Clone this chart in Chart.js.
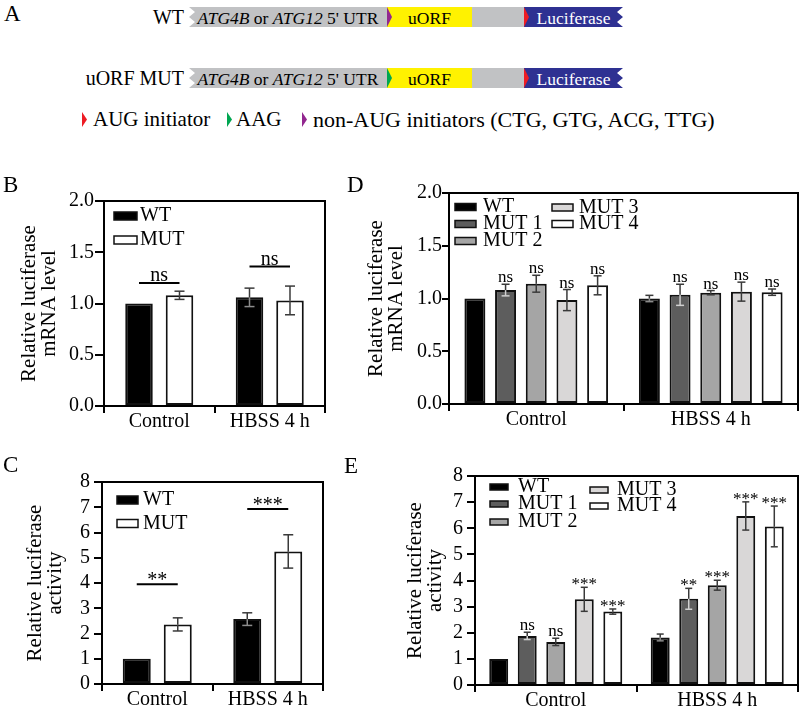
<!DOCTYPE html>
<html>
<head>
<meta charset="utf-8">
<script src="https://cdn.jsdelivr.net/npm/chart.js@4.4.1/dist/chart.umd.min.js"></script>
<style>
  body { margin: 0; background: #fff; }
  #fig { position: relative; width: 800px; height: 708px; overflow: hidden; font-family: 'Liberation Serif', 'Times New Roman', serif; color: #000; }
  #fig canvas { position: absolute; }
  .t { position: absolute; line-height: 1; white-space: nowrap; }
  .seg { position: absolute; height: 20px; line-height: 22px; text-align: center; font-size: 17.5px; white-space: nowrap; overflow: hidden; }
  .tri { position: absolute; width: 5px; clip-path: polygon(0 0, 100% 50%, 0 100%); }
  .utr { background: #c1c2c4; clip-path: polygon(0 0, 100% 0, 100% 100%, 0 100%, 6px 75%, 0 50%, 6px 25%); }
  .orf { background: #fff200; }
  .luc { background: #2e3192; color: #fff; clip-path: polygon(0 0, 100% 0, calc(100% - 6px) 25%, 100% 50%, calc(100% - 6px) 75%, 100% 100%, 0 100%); }
</style>
</head>
<body>
<div id="fig">
  <!-- panel A: reporter constructs -->
  <div class="t" style="left:4px;top:2px;font-size:23px">A</div>

  <div class="t" style="right:616px;top:7px;font-size:20px">WT</div>
  <div class="seg utr" style="left:189px;top:7px;width:340px"></div>
  <div class="seg" style="left:189px;top:7px;width:198px"><i>ATG4B</i> or <i>ATG12</i> 5' UTR</div>
  <div class="seg orf" style="left:387px;top:7px;width:85px">uORF</div>
  <div class="tri" style="left:387px;top:7px;height:20px;background:#92278f"></div>
  <div class="seg luc" style="left:524px;top:7px;width:99px">Luciferase</div>
  <div class="tri" style="left:524px;top:7px;height:20px;background:#ed1c24"></div>

  <div class="t" style="right:616px;top:68px;font-size:20px">uORF MUT</div>
  <div class="seg utr" style="left:189px;top:68px;width:340px"></div>
  <div class="seg" style="left:189px;top:68px;width:198px"><i>ATG4B</i> or <i>ATG12</i> 5' UTR</div>
  <div class="seg orf" style="left:387px;top:68px;width:85px">uORF</div>
  <div class="tri" style="left:387px;top:68px;height:20px;background:#00a651"></div>
  <div class="seg luc" style="left:524px;top:68px;width:99px">Luciferase</div>
  <div class="tri" style="left:524px;top:68px;height:20px;background:#ed1c24"></div>

  <div class="tri" style="left:82px;top:112px;height:15px;background:#ed1c24"></div>
  <div class="t" style="left:93px;top:109.4px;font-size:21px">AUG initiator</div>
  <div class="tri" style="left:227px;top:112px;height:15px;background:#00a651"></div>
  <div class="t" style="left:236px;top:109.4px;font-size:21px">AAG</div>
  <div class="tri" style="left:302px;top:112px;height:15px;background:#92278f"></div>
  <div class="t" style="left:313px;top:108.6px;font-size:22px">non-AUG initiators (CTG, GTG, ACG, TTG)</div>

  <canvas id="chartB" width="328" height="242" style="left:0;top:188px"></canvas>
  <canvas id="chartD" width="455" height="247" style="left:345px;top:181px"></canvas>
  <canvas id="chartC" width="326" height="242" style="left:0;top:466px"></canvas>
  <canvas id="chartE" width="430" height="249" style="left:370px;top:460px"></canvas>

  <div class="t" style="left:3px;top:173px;font-size:23px">B</div>
  <div class="t" style="left:347px;top:173px;font-size:23px">D</div>
  <div class="t" style="left:3px;top:453px;font-size:23px">C</div>
  <div class="t" style="left:344px;top:454px;font-size:23px">E</div>
</div>

<script>
const FONT = "'Liberation Serif', 'Times New Roman', serif";

// categories and series names
const groups = ['Control', 'HBSS 4 h'];
const pairNames = ['WT', 'MUT'];
const mutNames = ['WT', 'MUT 1', 'MUT 2', 'MUT 3', 'MUT 4'];

// tick labels
const mrnaTicks = ['0.0', '0.5', '1.0', '1.5', '2.0'];
const actTicks = ['0', '1', '2', '3', '4', '5', '6', '7', '8'];

// B: relative luciferase mRNA level, WT vs uORF MUT (one row per series)
const mrnaPair = [[1.00, 1.06], [1.08, 1.03]];
const mrnaPairErr = [[0, 0.09], [0.04, 0.14]];
const mrnaPairSig = ['ns', 'ns'];
const mrnaPairSigAt = [1.20, 1.36];

// C: relative luciferase activity, WT vs uORF MUT
const actPair = [[1.00, 2.57], [2.36, 5.25]];
const actPairErr = [[0, 0.25], [0.26, 0.66]];
const actPairSig = ['**', '***'];
const actPairSigAt = [3.95, 6.93];

// D: mRNA level, WT and the four mutants
const mrnaMut = [[1.00, 1.00], [1.08, 1.035], [1.14, 1.055], [0.985, 1.065], [1.125, 1.06]];
const mrnaMutErr = [[0, 0.03], [0.055, 0.10], [0.08, 0.02], [0.10, 0.09], [0.09, 0.03]];
const mrnaMutSig = [['', ''], ['ns', 'ns'], ['ns', 'ns'], ['ns', 'ns'], ['ns', 'ns']];

// E: luciferase activity, WT and the four mutants
const actMut = [[1.00, 1.82], [1.88, 3.30], [1.65, 3.82], [3.28, 6.47], [2.81, 6.07]];
const actMutErr = [[0, 0.13], [0.14, 0.40], [0.14, 0.19], [0.46, 0.54], [0.10, 0.78]];
const actMutSig = [['', ''], ['ns', '**'], ['ns', '***'], ['***', '***'], ['***', '***']];

const pairFill = ['#000000', '#ffffff'];
const pairErrIn = ['#8c8c8c', '#3a3a3a'];
const mutFill = ['#000000', '#5d5d5d', '#a5a5a5', '#d9d7d7', '#ffffff'];
const mutErrIn = ['#8c8c8c', '#d0d0d0', '#3a3a3a', '#3a3a3a', '#3a3a3a'];

function markOffset(txt) {
    // asterisks sit high in the font, "ns" sits on the baseline
    return txt.indexOf('*') >= 0 ? 2 : -2;
}

function extras(p) {
    return {
        id: 'extras',
        afterDatasetsDraw(chart) {
            const ctx = chart.ctx;
            const y = chart.scales.y;
            const area = chart.chartArea;
            ctx.save();

            // top and right side of the frame
            ctx.strokeStyle = '#000';
            ctx.lineWidth = 2;
            ctx.beginPath();
            ctx.moveTo(area.left, area.top);
            ctx.lineTo(area.right, area.top);
            ctx.lineTo(area.right, area.bottom);
            ctx.stroke();

            // error bars
            const seg = (x1, y1, x2, y2) => { ctx.beginPath(); ctx.moveTo(x1, y1); ctx.lineTo(x2, y2); ctx.stroke(); };
            ctx.lineWidth = 1.5;
            chart.data.datasets.forEach((ds, di) => {
                chart.getDatasetMeta(di).data.forEach((bar, i) => {
                    const e = p.errors[di][i];
                    if (!e) return;
                    const v = ds.data[i];
                    const hi = y.getPixelForValue(v + e);
                    const lo = y.getPixelForValue(v - e);
                    const c = p.cap / 2;
                    ctx.strokeStyle = p.errIn[di];
                    seg(bar.x, bar.y, bar.x, lo);
                    seg(bar.x - c, lo, bar.x + c, lo);
                    ctx.strokeStyle = '#3a3a3a';
                    seg(bar.x, hi, bar.x, bar.y);
                    seg(bar.x - c, hi, bar.x + c, hi);
                });
            });

            ctx.fillStyle = '#000';
            ctx.textAlign = 'center';
            ctx.textBaseline = 'alphabetic';

            // significance marks above single bars
            if (p.marks) {
                ctx.font = '17px ' + FONT;
                chart.data.datasets.forEach((ds, di) => {
                    chart.getDatasetMeta(di).data.forEach((bar, i) => {
                        const txt = p.marks[di][i];
                        if (!txt) return;
                        const e = p.errors[di][i];
                        const top = e ? y.getPixelForValue(ds.data[i] + e) : bar.y;
                        ctx.fillText(txt, bar.x, top + markOffset(txt));
                    });
                });
            }

            // significance brackets between WT and MUT
            if (p.brackets) {
                ctx.font = '20px ' + FONT;
                ctx.strokeStyle = '#000';
                ctx.lineWidth = 2;
                const a = chart.getDatasetMeta(0).data;
                const b = chart.getDatasetMeta(1).data;
                p.brackets.forEach((txt, i) => {
                    const yy = y.getPixelForValue(p.bracketAt[i]);
                    seg(a[i].x, yy, b[i].x, yy);
                    ctx.fillText(txt, (a[i].x + b[i].x) / 2, yy + markOffset(txt));
                });
            }

            // legend
            ctx.font = '20px ' + FONT;
            ctx.textAlign = 'left';
            ctx.textBaseline = 'middle';
            ctx.lineWidth = 1.5;
            ctx.strokeStyle = '#111';
            p.legend.forEach(it => {
                const bx = area.left + it.bx;
                const cy = area.top + it.cy;
                ctx.fillStyle = p.fills[it.i];
                ctx.fillRect(bx, cy - p.boxH / 2, p.boxW, p.boxH);
                ctx.strokeRect(bx, cy - p.boxH / 2, p.boxW, p.boxH);
                ctx.fillStyle = '#000';
                ctx.fillText(p.names[it.i], area.left + it.tx, cy);
            });
            ctx.restore();
        }
    };
}

function makeChart(id, p) {
    const datasets = p.values.map((vals, di) => ({
        label: p.names[di],
        data: vals,
        backgroundColor: p.fills[di],
        borderColor: '#111',
        borderWidth: 2,
        borderSkipped: false,
        categoryPercentage: p.catPct,
        barPercentage: p.barPct
    }));

    return new Chart(document.getElementById(id), {
        type: 'bar',
        data: { labels: groups, datasets: datasets },
        options: {
            responsive: false,
            animation: false,
            devicePixelRatio: 1,
            layout: { padding: { top: 12, right: p.padRight, left: 0, bottom: 0 } },
            plugins: { legend: { display: false }, tooltip: { enabled: false } },
            scales: {
                x: {
                    ticks: { color: '#000', font: { family: FONT, size: 20, lineHeight: 0.8 }, padding: 1, maxRotation: 0 },
                    grid: { offset: true, drawOnChartArea: false, tickLength: 7, color: '#000', lineWidth: 2 },
                    border: { color: '#000', width: 2 },
                    afterFit: s => { s.height = 24; }
                },
                y: {
                    min: 0,
                    max: p.yMax,
                    ticks: {
                        stepSize: p.step,
                        autoSkip: false,
                        color: '#000',
                        padding: p.tickPad,
                        font: { family: FONT, size: 20 },
                        callback: (v, i) => p.ticks[i]
                    },
                    grid: { drawOnChartArea: false, tickLength: p.tickLen, color: '#000', lineWidth: 2 },
                    border: { color: '#000', width: 2 },
                    title: {
                        display: true,
                        text: p.title,
                        color: '#000',
                        font: { family: FONT, size: 21, lineHeight: 0.952 },
                        padding: { top: p.titlePad, bottom: 0 }
                    },
                    afterFit: s => { s.width = p.axisW; }
                }
            }
        },
        plugins: [extras(p)]
    });
}

makeChart('chartB', {
    names: pairNames, values: mrnaPair, errors: mrnaPairErr, fills: pairFill, errIn: pairErrIn,
    brackets: mrnaPairSig, bracketAt: mrnaPairSigAt,
    yMax: 2, step: 0.5, ticks: mrnaTicks, title: ['Relative luciferase', 'mRNA level'],
    axisW: 104, titlePad: 19.5, tickPad: 1, tickLen: 9, padRight: 3,
    catPct: 0.733, barPct: 0.68, cap: 10,
    boxW: 23, boxH: 8,
    legend: [{ i: 0, bx: 10, cy: 15, tx: 36 }, { i: 1, bx: 10, cy: 39, tx: 36 }]
});

makeChart('chartC', {
    names: pairNames, values: actPair, errors: actPairErr, fills: pairFill, errIn: pairErrIn,
    brackets: actPairSig, bracketAt: actPairSigAt,
    yMax: 8, step: 1, ticks: actTicks, title: ['Relative luciferase', 'activity'],
    axisW: 102, titlePad: 25, tickPad: 4, tickLen: 8, padRight: 3,
    catPct: 0.742, barPct: 0.683, cap: 10,
    boxW: 21, boxH: 8,
    legend: [{ i: 0, bx: 15, cy: 18, tx: 41 }, { i: 1, bx: 15, cy: 41.5, tx: 41 }]
});

makeChart('chartD', {
    names: mutNames, values: mrnaMut, errors: mrnaMutErr, fills: mutFill, errIn: mutErrIn,
    marks: mrnaMutSig,
    yMax: 2, step: 0.5, ticks: mrnaTicks, title: ['Relative luciferase', 'mRNA level'],
    axisW: 104, titlePad: 21, tickPad: 0, tickLen: 7, padRight: 2,
    catPct: 0.879, barPct: 0.683, cap: 8,
    boxW: 21, boxH: 7,
    legend: [
        { i: 0, bx: 6, cy: 14, tx: 34 }, { i: 1, bx: 6, cy: 31, tx: 34 }, { i: 2, bx: 6, cy: 48, tx: 34 },
        { i: 3, bx: 103, cy: 14.5, tx: 130 }, { i: 4, bx: 103, cy: 31, tx: 130 }
    ]
});

makeChart('chartE', {
    names: mutNames, values: actMut, errors: actMutErr, fills: mutFill, errIn: mutErrIn,
    marks: actMutSig,
    yMax: 8, step: 1, ticks: actTicks, title: ['Relative luciferase', 'activity'],
    axisW: 105, titlePad: 35, tickPad: 4, tickLen: 8, padRight: 2,
    catPct: 0.883, barPct: 0.664, cap: 7,
    boxW: 18, boxH: 6,
    legend: [
        { i: 0, bx: 15, cy: 11, tx: 43 }, { i: 1, bx: 15, cy: 28, tx: 43 }, { i: 2, bx: 15, cy: 46, tx: 43 },
        { i: 3, bx: 115, cy: 14, tx: 142 }, { i: 4, bx: 115, cy: 30, tx: 142 }
    ]
});
</script>
</body>
</html>
